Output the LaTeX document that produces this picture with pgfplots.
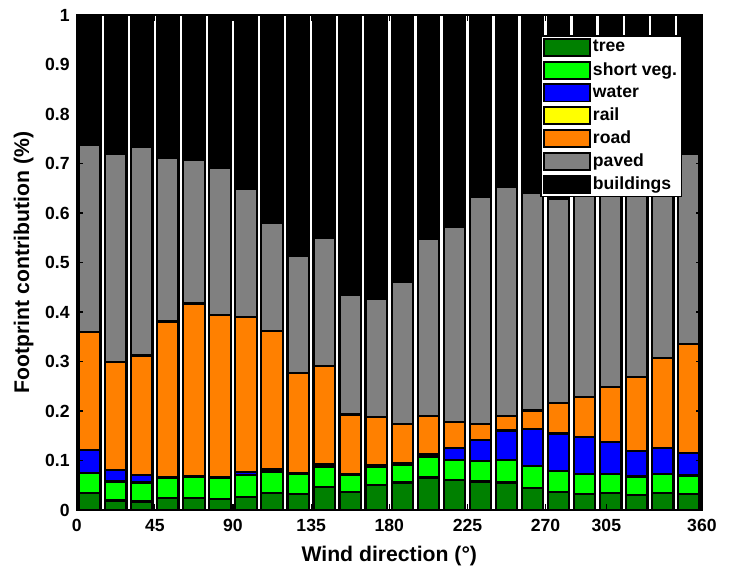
\documentclass[border=0pt]{standalone}
\usepackage{fontspec}
\setmainfont{Liberation Sans}
\usepackage{pgfplots}
\pgfplotsset{compat=1.18}
\usepackage{pgfplotstable}
\definecolor{ctree}{rgb}{0,0.5,0}
\definecolor{csveg}{rgb}{0,1,0}
\definecolor{cwater}{rgb}{0,0,1}
\definecolor{crail}{rgb}{1,1,0}
\definecolor{croad}{rgb}{1,0.5,0}
\definecolor{cpaved}{rgb}{0.5,0.5,0.5}
\definecolor{cbld}{rgb}{0,0,0}
\pgfplotstableread{
dir tree sveg water rail road paved bld
7.5 0.034 0.0405 0.0475 0 0.238 0.377 0.263
22.5 0.019 0.0386 0.0234 0 0.218 0.4205 0.2805
37.5 0.017 0.0386 0.0154 0 0.241 0.422 0.266
52.5 0.024 0.040 0.002 0 0.315 0.330 0.289
67.5 0.025 0.041 0.002 0 0.349 0.290 0.293
82.5 0.022 0.042 0.002 0 0.328 0.298 0.308
97.5 0.027 0.044 0.005 0 0.314 0.259 0.351
112.5 0.035 0.042 0.005 0 0.279 0.220 0.419
127.5 0.0325 0.040 0.0025 0 0.201 0.238 0.486
142.5 0.046 0.042 0.004 0 0.199 0.258 0.451
157.5 0.037 0.033 0.003 0 0.120 0.241 0.566
172.5 0.051 0.036 0.003 0 0.098 0.239 0.573
187.5 0.0556 0.0359 0.0035 0 0.078 0.288 0.539
202.5 0.0657 0.0423 0.005 0 0.077 0.357 0.453
217.5 0.061 0.0406 0.0234 0 0.0525 0.3935 0.429
232.5 0.0576 0.042 0.0424 0 0.032 0.459 0.367
247.5 0.0556 0.046 0.059 0 0.0294 0.462 0.348
262.5 0.044 0.0454 0.0746 0 0.037 0.440 0.359
277.5 0.036 0.042 0.0765 0 0.0609 0.4136 0.371
292.5 0.0325 0.040 0.0752 0 0.0803 0.432 0.34
307.5 0.034 0.0385 0.065 0 0.1115 0.441 0.31
322.5 0.0305 0.0372 0.0508 0 0.1505 0.431 0.30
337.5 0.034 0.0385 0.0525 0 0.1826 0.4024 0.29
352.5 0.0325 0.0372 0.0453 0 0.2197 0.3848 0.2805
}\data
\begin{document}
\begin{tikzpicture}
\begin{axis}[
  scale only axis, width=312.6pt, height=247.5pt,
  xmin=0, xmax=360, ymin=0, ymax=1,
  ybar stacked, bar width=12.3,
  xtick={0,45,90,135,180,225,270,305,360},
  ytick={0,0.1,0.2,0.3,0.4,0.5,0.6,0.7,0.8,0.9,1},
  yticklabels={0,0.1,0.2,0.3,0.4,0.5,0.6,0.7,0.8,0.9,1},
  xticklabels={0,45,90,135,180,225,270,305,360},
  tick align=inside, major tick length=3pt,
  axis on top,
  axis line style={line width=0.9pt},
  every tick/.style={black, line width=0.6pt},
  ticklabel style={font=\bfseries\fontsize{8.8}{10}\selectfont},
  xticklabel style={yshift=-1pt},
  xlabel={Wind direction (°)}, ylabel={Footprint contribution (\%)},
  label style={font=\bfseries\fontsize{10.6}{12}\selectfont},
  xlabel style={at={(axis description cs:0.5,-0.092)}, anchor=center},
  ylabel style={at={(axis description cs:-0.085,0.5)}, anchor=center},
  legend style={at={(0.741,0.9596)}, anchor=north west, draw=black, line width=0.8pt,
    font=\bfseries\fontsize{8.8}{10}\selectfont, inner sep=1.2pt, row sep=1.6pt,
    nodes={inner sep=1pt}},
  legend cell align=left,
  legend image code/.code={\draw[#1,draw=black,line width=0.9pt] (0pt,-4.3pt) rectangle (23pt,4.3pt);},
  every axis plot/.append style={draw=black, line width=1.1pt},
]
\addplot[fill=ctree] table[x=dir,y=tree]{\data};
\addplot[fill=csveg] table[x=dir,y=sveg]{\data};
\addplot[fill=cwater] table[x=dir,y=water]{\data};
\addplot[fill=crail] table[x=dir,y=rail]{\data};
\addplot[fill=croad] table[x=dir,y=road]{\data};
\addplot[fill=cpaved] table[x=dir,y=paved]{\data};
\addplot[fill=cbld] table[x=dir,y=bld]{\data};
\legend{tree,short veg.,water,rail,road,paved,buildings}
\coordinate (sw) at (rel axis cs:0,0);
\end{axis}
\pgfresetboundingbox
\path (sw) ++(-38.35pt,-29.5pt) rectangle ++(367.5pt,284.5pt);
\end{tikzpicture}
\end{document}
